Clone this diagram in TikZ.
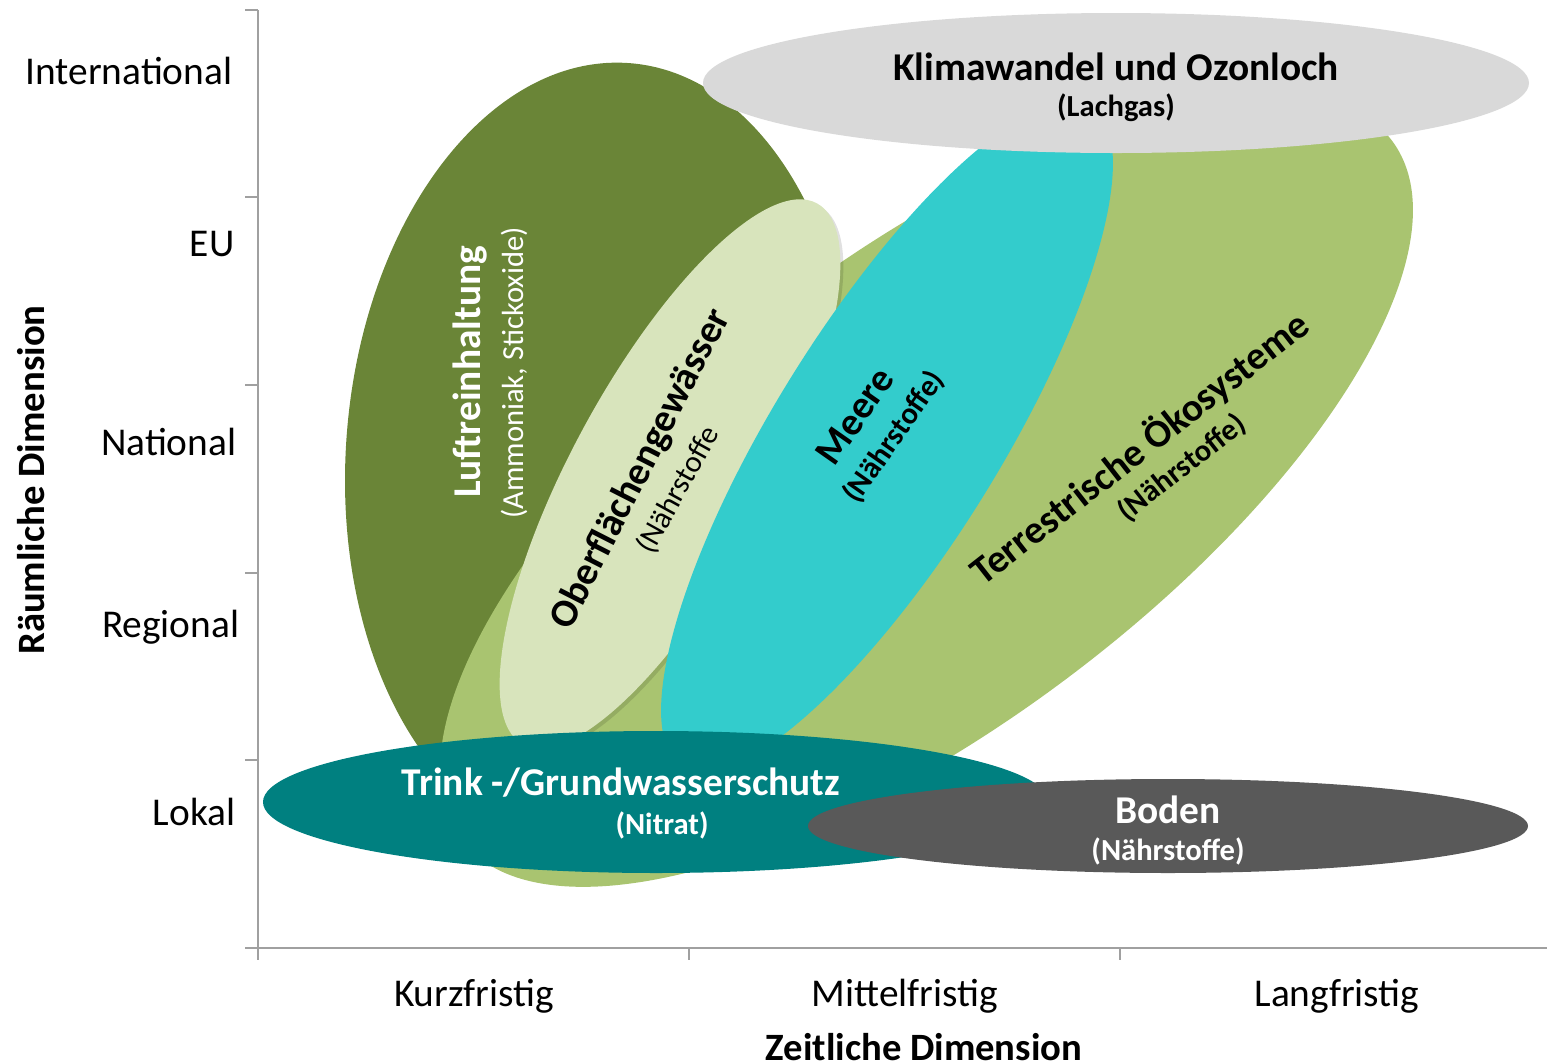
\documentclass[tikz,border=0pt]{standalone}
\usepackage{fontspec}
\setmainfont{Carlito}
\usetikzlibrary{positioning}

\definecolor{luftgreen}{RGB}{106,133,55}
\definecolor{terrgreen}{RGB}{169,196,112}
\definecolor{paleoberfl}{RGB}{216,228,188}
\definecolor{meercyan}{RGB}{51,204,204}
\definecolor{klimagrey}{RGB}{217,217,217}
\definecolor{trinkteal}{RGB}{0,128,128}
\definecolor{bodengrey}{RGB}{89,89,89}
\definecolor{axisgrey}{RGB}{160,160,160}

\newcommand{\regionfont}{\fontsize{11.2}{13.4}\selectfont\bfseries}
\newcommand{\notefont}{\fontsize{8.7}{10.4}\selectfont\bfseries}
\newcommand{\noteplain}{\fontsize{8.7}{10.4}\selectfont}
\newcommand{\levelfont}{\fontsize{11.2}{13.4}\selectfont}
\newcommand{\dimfont}{\fontsize{11}{13.2}\selectfont\bfseries}

\tikzset{
    axisline/.style={draw=axisgrey, line width=0.55pt},
    level/.style={anchor=east, inner sep=0pt, font=\levelfont},
    period/.style={inner sep=0pt, font=\levelfont},
    dimlabel/.style={inner sep=0pt, font=\dimfont},
    regionname/.style={inner sep=0pt, font=\regionfont},
    regionnote/.style={inner sep=0pt, font=\notefont},
}

\begin{document}
\begin{tikzpicture}[x=0.01cm, y=-0.01cm]
    \useasboundingbox (0,0) rectangle (1547,1063);

        % Axes
        \coordinate (top) at (258,10);
        \coordinate (origin) at (258,948);
        \coordinate (right) at (1547,948);
        \draw[axisline] (top) -- (origin) -- (right);
        \foreach \y in {10,197,385,573,760,948}
            \draw[axisline] (245,\y) -- (258,\y);
        \foreach \x in {258,689,1120}
            \draw[axisline] (\x,948) -- (\x,960);

        % Regions, back to front
        \fill[luftgreen, rotate around={-4.3:(600,454)}] (600,454) ellipse [x radius=254, y radius=392];
        \fill[terrgreen, rotate around={36.9:(926.5,490)}] (926.5,490) ellipse [x radius=582, y radius=235];
        \fill[black, opacity=0.12, rotate around={61.5:(673,477)}] (673,477) ellipse [x radius=308, y radius=98];
        \fill[paleoberfl, rotate around={61.5:(670,474)}] (670,474) ellipse [x radius=308, y radius=98];
        \fill[meercyan, rotate around={58.2:(887,437)}] (887,437) ellipse [x radius=388, y radius=113];
        \fill[klimagrey] (1116,83) ellipse [x radius=413, y radius=70];
        \fill[trinkteal] (656,802) ellipse [x radius=393, y radius=71];
        \fill[bodengrey] (1168,826) ellipse [x radius=360, y radius=47];

        % Region labels
        \node[regionname, white, rotate=90] (luft) at (470,372) {Luftreinhaltung};
        \node[inner sep=0pt, font=\noteplain, white, rotate=90] (luftnote) at (514,373) {(Ammoniak, Stickoxide)};
        \node[regionname, rotate=63] (oberfl) at (641,469) {Oberflächengewässer};
        \node[inner sep=0pt, font=\noteplain, rotate=61] (oberflnote) at (678,490) {(Nährstoffe};
        \node[regionname, rotate=55] (meere) at (855,416) {Meere};
        \node[regionnote, rotate=55] (meerenote) at (894,437) {(Nährstoffe)};
        \node[regionname, rotate=38] (terr) at (1140,448) {Terrestrische Ökosysteme};
        \node[regionnote, rotate=38] (terrnote) at (1182,468) {(Nährstoffe)};
        \node[regionname] (klima) at (1116,67) {Klimawandel und Ozonloch};
        \node[regionnote] (klimanote) at (1116,108) {(Lachgas)};
        \node[regionname, white] (trink) at (621,783) {Trink -/Grundwasserschutz};
        \node[regionnote, white] (trinknote) at (662,825) {(Nitrat)};
        \node[regionname, white] (boden) at (1168,810) {Boden};
        \node[regionnote, white] (bodennote) at (1168,851) {(Nährstoffe)};

        % Scale levels
        \node[level] (intl) at (233,71) {International};
        \node[level] (eu) at (235,244) {EU};
        \node[level] (natl) at (237,442) {National};
        \node[level] (regl) at (240,627) {Regional};
        \node[level] (lokal) at (236,812) {Lokal};
        \node[period] (kurz) at (474,996) {Kurzfristig};
        \node[period] (mittel) at (905,996) {Mittelfristig};
        \node[period] (lang) at (1337,996) {Langfristig};

        % Axis titles
        \node[dimlabel, rotate=90] (raum) at (31,480) {Räumliche Dimension};
        \node[dimlabel] (zeit) at (924,1047) {Zeitliche Dimension};
\end{tikzpicture}
\end{document}
